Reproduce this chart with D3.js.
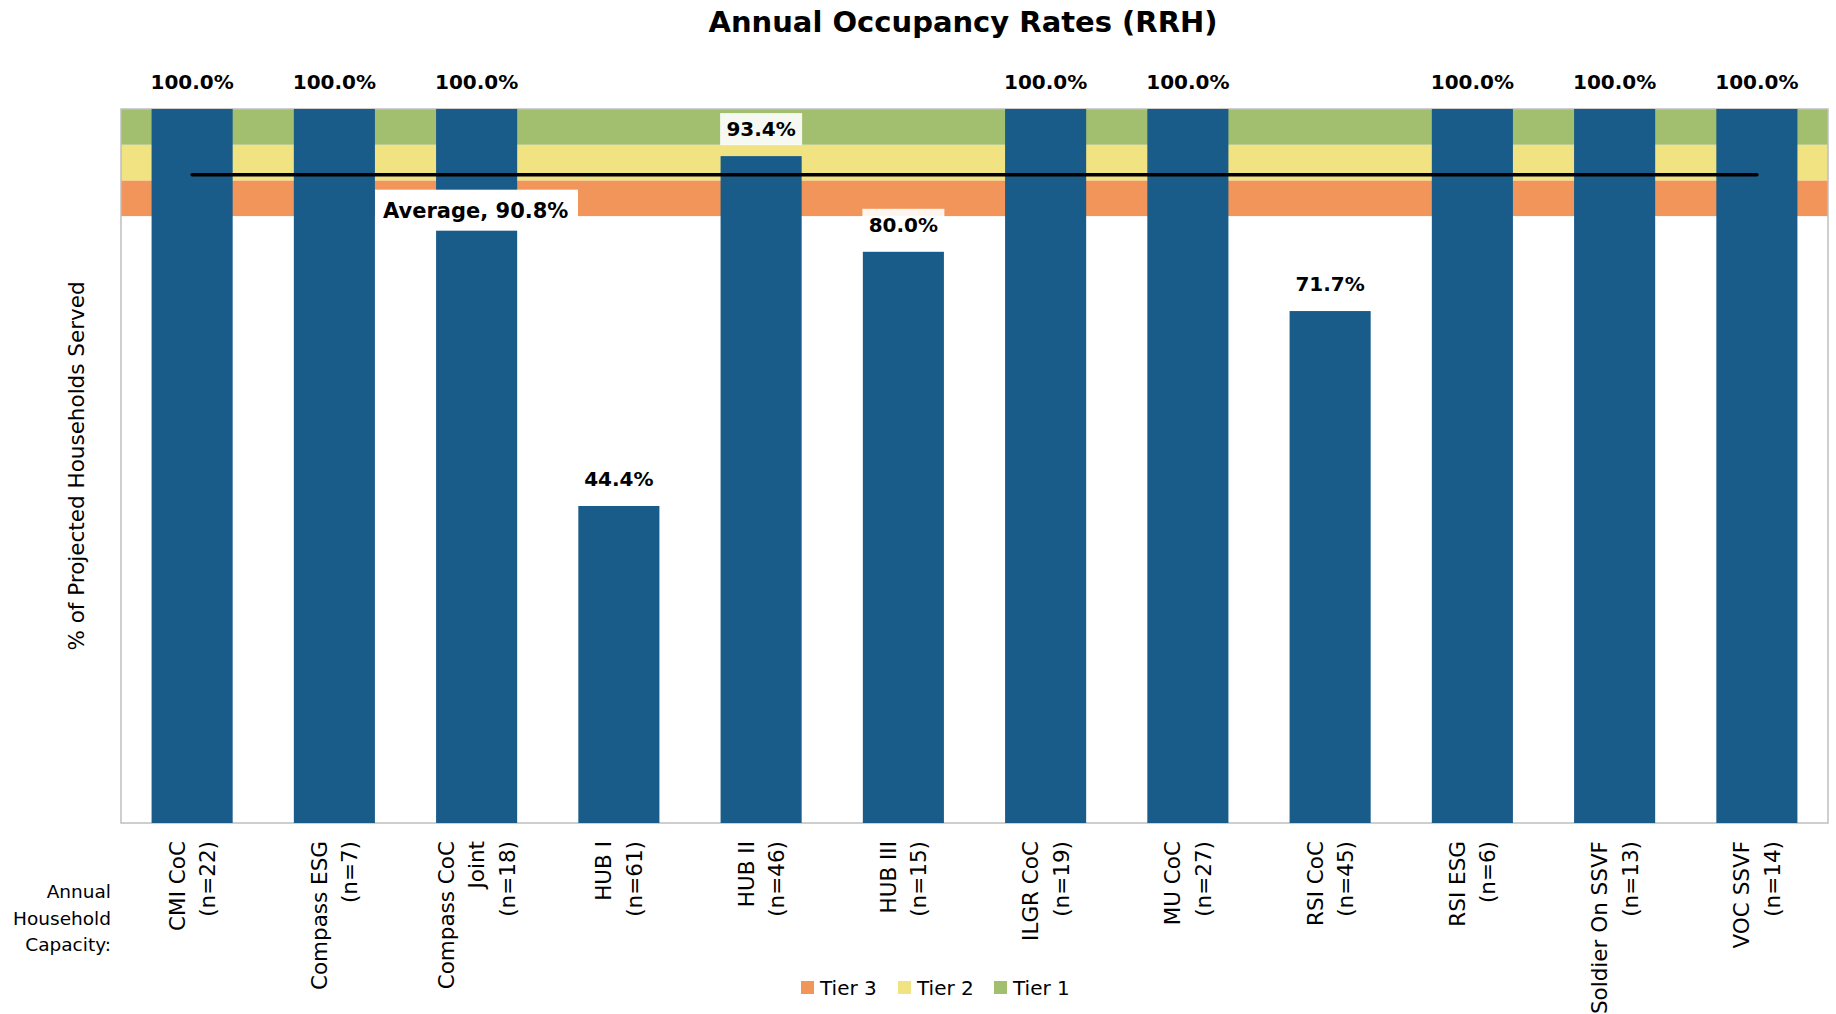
<!DOCTYPE html>
<html>
<head>
<meta charset="utf-8">
<script src="https://cdn.jsdelivr.net/npm/d3@7"></script>
<style>
  body { margin: 0; background: #fff; }
  text { font-family: "DejaVu Sans", sans-serif; fill: #000; }
</style>
</head>
<body>
<div id="grafiek"></div>
<script>
// programma's en capaciteit
var programmas = ["CMI CoC", "Compass ESG", "Compass CoC Joint", "HUB I", "HUB II", "HUB III",
                  "ILGR CoC", "MU CoC", "RSI CoC", "RSI ESG", "Soldier On SSVF", "VOC SSVF"];
var labelRegels = [["CMI CoC", "(n=22)"], ["Compass ESG", "(n=7)"], ["Compass CoC", "Joint", "(n=18)"],
                   ["HUB I", "(n=61)"], ["HUB II", "(n=46)"], ["HUB III", "(n=15)"],
                   ["ILGR CoC", "(n=19)"], ["MU CoC", "(n=27)"], ["RSI CoC", "(n=45)"],
                   ["RSI ESG", "(n=6)"], ["Soldier On SSVF", "(n=13)"], ["VOC SSVF", "(n=14)"]];
var bezetting = [100.0, 100.0, 100.0, 44.4, 93.4, 80.0, 100.0, 100.0, 71.7, 100.0, 100.0, 100.0];
var gemiddelde = 90.8;

// tier banden (van, tot)
var tiers = [{naam: "Tier 3", van: 85, tot: 90, kleur: "#F2955B"},
             {naam: "Tier 2", van: 90, tot: 95, kleur: "#F2E382"},
             {naam: "Tier 1", van: 95, tot: 100, kleur: "#A2BE6F"}];

var breedte = 1836, hoogte = 1014;
var marge = {boven: 109, beneden: 191, links: 121, rechts: 8};

var svg = d3.select("#grafiek")
            .append("svg")
            .attr("width", breedte)
            .attr("height", hoogte);

// schalen
var x = d3.scaleBand()
          .domain(programmas)
          .range([marge.links, breedte - marge.rechts])
          .paddingInner(0.43)
          .paddingOuter(0.215);

var y = d3.scaleLinear()
          .domain([0, 100])
          .range([hoogte - marge.beneden, marge.boven]);

// titel
svg.append("text")
   .attr("x", 963)
   .attr("y", 32)
   .attr("text-anchor", "middle")
   .attr("font-size", "29px")
   .attr("font-weight", "bold")
   .text("Annual Occupancy Rates (RRH)");

// tier banden
svg.selectAll(".tier")
   .data(tiers)
   .enter()
   .append("rect")
   .attr("class", "tier")
   .attr("x", marge.links)
   .attr("width", breedte - marge.rechts - marge.links)
   .attr("y", function(d) { return y(d.tot); })
   .attr("height", function(d) { return y(d.van) - y(d.tot); })
   .attr("fill", function(d) { return d.kleur; });

// kader
svg.append("rect")
   .attr("x", marge.links)
   .attr("y", marge.boven)
   .attr("width", breedte - marge.rechts - marge.links)
   .attr("height", hoogte - marge.beneden - marge.boven)
   .attr("fill", "none")
   .attr("stroke", "#BFBFBF")
   .attr("stroke-width", 1.5);

// staven
svg.selectAll(".staaf")
   .data(bezetting)
   .enter()
   .append("rect")
   .attr("class", "staaf")
   .attr("x", function(d, i) { return x(programmas[i]); })
   .attr("width", x.bandwidth())
   .attr("y", function(d) { return y(d); })
   .attr("height", function(d) { return y(0) - y(d); })
   .attr("fill", "#195B89");

// gemiddelde lijn
svg.append("line")
   .attr("x1", x(programmas[0]) + x.bandwidth() / 2)
   .attr("x2", x(programmas[programmas.length - 1]) + x.bandwidth() / 2)
   .attr("y1", y(gemiddelde))
   .attr("y2", y(gemiddelde))
   .attr("stroke", "#000")
   .attr("stroke-width", 3.5)
   .attr("stroke-linecap", "round");

var gemLabel = svg.append("g")
                  .attr("transform", "translate(375," + (y(gemiddelde) + 15) + ")");
gemLabel.append("rect")
        .attr("width", 203)
        .attr("height", 41)
        .attr("fill", "#fff");
gemLabel.append("text")
        .attr("x", 8)
        .attr("y", 28)
        .attr("font-size", "21px")
        .attr("font-weight", "bold")
        .text("Average, " + gemiddelde.toFixed(1) + "%");

// waarde labels
var labels = svg.selectAll(".waarde")
                .data(bezetting)
                .enter()
                .append("g")
                .attr("class", "waarde")
                .attr("transform", function(d, i) {
                  return "translate(" + (x(programmas[i]) + x.bandwidth() / 2) + "," + (y(d) - 27) + ")"; });
labels.append("rect")
      .attr("x", -41)
      .attr("y", -16)
      .attr("width", 82)
      .attr("height", 32)
      .attr("fill", "#fff")
      .attr("fill-opacity", 0.9);
labels.append("text")
      .attr("text-anchor", "middle")
      .attr("dy", "0.36em")
      .attr("font-size", "20px")
      .attr("font-weight", "bold")
      .text(function(d) { return d.toFixed(1) + "%"; });

// as titel
svg.append("text")
   .attr("transform", "translate(84," + (y(50)) + ") rotate(-90)")
   .attr("text-anchor", "middle")
   .attr("font-size", "21.5px")
   .text("% of Projected Households Served");

// x labels (gedraaid)
var xLabels = svg.selectAll(".xLabel")
                 .data(labelRegels)
                 .enter()
                 .append("g")
                 .attr("class", "xLabel")
                 .attr("transform", function(d, i) {
                   var midden = x(programmas[i]) + x.bandwidth() / 2;
                   return "translate(" + midden + "," + 841 + ") rotate(-90)"; });
xLabels.each(function(regels) {
  var g = d3.select(this);
  var n = regels.length;
  regels.forEach(function(r, j) {
    g.append("text")
     .attr("x", 0)
     .attr("y", (j - (n - 1) / 2) * 30.5)
     .attr("dy", "0.36em")
     .attr("text-anchor", "end")
     .attr("font-size", "21.5px")
     .text(r);
  });
});

// capaciteit titel
["Annual", "Household", "Capacity:"].forEach(function(r, j) {
  svg.append("text")
     .attr("x", 111)
     .attr("y", 898 + j * 26.5)
     .attr("text-anchor", "end")
     .attr("font-size", "18.5px")
     .text(r);
});

// legenda
var legendaPos = [801, 898, 994];
var legenda = svg.selectAll(".legenda")
                 .data(tiers)
                 .enter()
                 .append("g")
                 .attr("class", "legenda")
                 .attr("transform", function(d, i) { return "translate(" + legendaPos[i] + ",988)"; });
legenda.append("rect")
       .attr("x", 0)
       .attr("y", -7)
       .attr("width", 13)
       .attr("height", 13)
       .attr("fill", function(d) { return d.kleur; });
legenda.append("text")
       .attr("x", 19)
       .attr("dy", "0.36em")
       .attr("font-size", "20px")
       .text(function(d) { return d.naam; });
</script>
</body>
</html>
